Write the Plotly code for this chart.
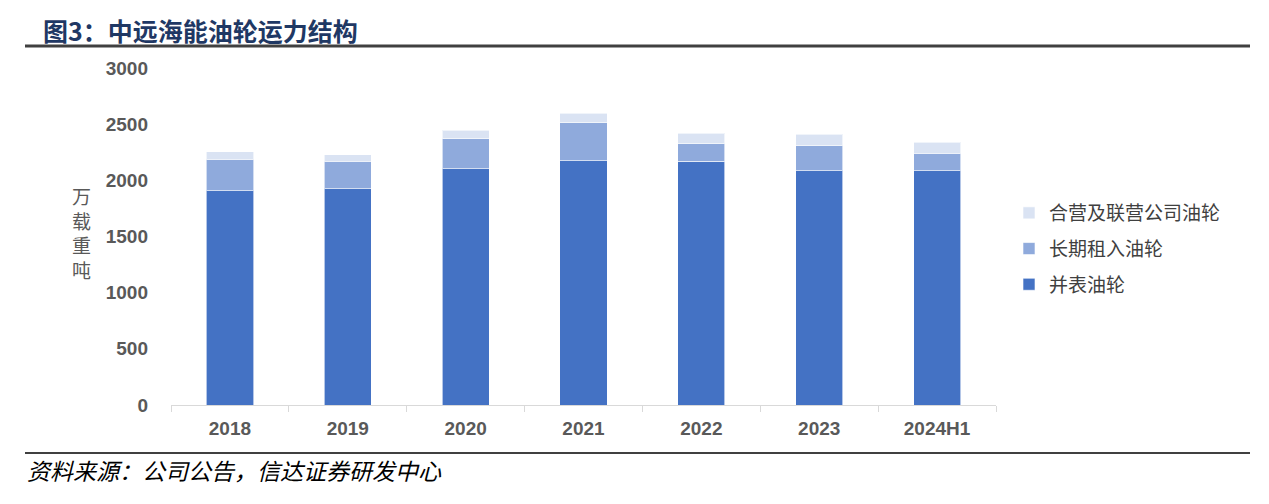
import plotly.graph_objects as go

categories = ["2018", "2019", "2020", "2021", "2022", "2023", "2024H1"]
owned = [1908, 1923, 2104, 2175, 2169, 2086, 2086]          # 并表油轮
chartered = [279, 246, 264, 338, 157, 222, 154]             # 长期租入油轮
jv = [68, 59, 80, 84, 93, 102, 99]                          # 合营及联营公司油轮
series_names = ["并表油轮", "长期租入油轮", "合营及联营公司油轮"]
y_ticks = [0, 500, 1000, 1500, 2000, 2500, 3000]

# page body has an 8px margin; work in screen pixels and shift
OFF = 8
W, H = 1269 - OFF, 504 - OFF
L, R, T, B = 171 - OFF, 996 - OFF, 68 - OFF, 405 - OFF

def px(x):
    return (x - OFF - L) / (R - L)

def py(y):
    return (B - (y - OFF)) / (B - T)

CJK = "Noto Sans CJK SC, Liberation Sans, Arial, sans-serif"
NUM = "Liberation Sans, Arial, Noto Sans CJK SC, sans-serif"

fig = go.Figure()
colors = ["#4472C4", "#8FAADC", "#DAE3F3"]
ranks = [3, 2, 1]
for name, vals, c, rk in zip(series_names, [owned, chartered, jv], colors, ranks):
    fig.add_trace(go.Bar(
        x=categories, y=vals, name=name, legendgroup=name, legendrank=rk,
        marker=dict(color=c, line=dict(color="rgba(255,255,255,0.6)", width=1)),
    ))

fig.update_layout(
    width=W, height=H,
    margin=dict(l=L, r=W - R, t=T, b=H - B),
    barmode="stack", bargap=0.6,
    plot_bgcolor="white", paper_bgcolor="white",
    showlegend=True,
    legend=dict(
        x=px(1009), y=py(194), xanchor="left", yanchor="top",
        traceorder="grouped", tracegroupgap=8,
        font=dict(family=CJK, size=19, color="#404040"),
        itemwidth=30, bgcolor="rgba(0,0,0,0)",
    ),
    xaxis=dict(
        type="category", showgrid=False, showline=True, linecolor="#D9D9D9", linewidth=1,
        ticks="outside", tickson="boundaries", ticklen=6, tickcolor="#D9D9D9",
        tickfont=dict(family=NUM, size=19, color="#595959", weight="bold"),
        ticklabelstandoff=6,
    ),
    yaxis=dict(
        range=[0, 3000], tickvals=y_ticks, showgrid=False, zeroline=False, showline=False,
        tickfont=dict(family=NUM, size=19, color="#595959", weight="bold"),
        ticklabelstandoff=22,
    ),
)

# y-axis title (vertical stacked characters)
fig.add_annotation(
    x=px(81), y=py(232), xref="paper", yref="paper", showarrow=False,
    text="万<br>载<br>重<br>吨", font=dict(family=CJK, size=19, color="#595959"),
    xanchor="center", yanchor="middle",
)

# title
fig.add_annotation(
    x=px(41), y=py(30), xref="paper", yref="paper", showarrow=False,
    text="<b>图3：中远海能油轮运力结构</b>", font=dict(family=CJK, size=25, color="#1F3864"),
    xanchor="left", yanchor="middle",
)
# footer
fig.add_annotation(
    x=px(25), y=py(470), xref="paper", yref="paper", showarrow=False,
    text="<i>资料来源：公司公告，信达证券研发中心</i>", font=dict(family=CJK, size=23, color="#000000"),
    xanchor="left", yanchor="middle",
)
# rule lines
fig.add_shape(type="line", xref="paper", yref="paper", x0=px(25), x1=px(1250), y0=py(46), y1=py(46),
              line=dict(color="#404040", width=3))
fig.add_shape(type="line", xref="paper", yref="paper", x0=px(25), x1=px(1250), y0=py(453), y1=py(453),
              line=dict(color="#404040", width=2))

fig.write_html("out.html")
